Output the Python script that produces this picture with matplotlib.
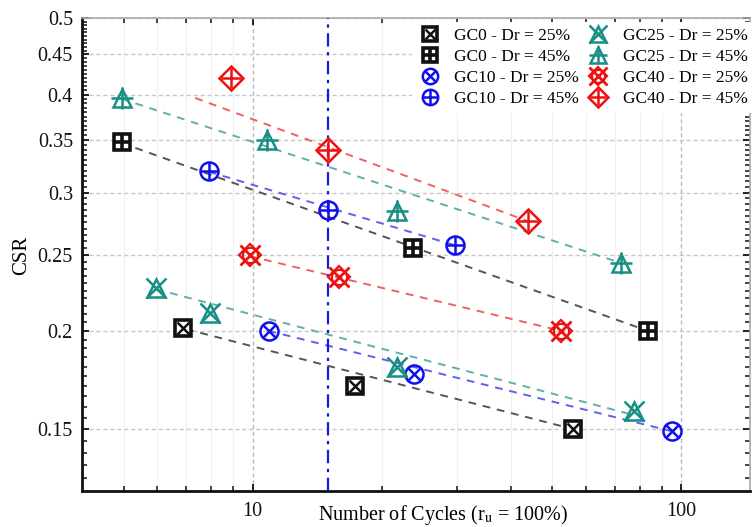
import numpy as np
import matplotlib
matplotlib.use("Agg")
import matplotlib.pyplot as plt
from matplotlib.ticker import FixedLocator, NullFormatter, FixedFormatter

plt.rcParams['font.family'] = ['Liberation Serif', 'DejaVu Serif']
plt.rcParams['mathtext.fontset'] = 'stix'

# ---------------- data ----------------
labels = ['GC0 - Dr = 25%', 'GC0 - Dr = 45%', 'GC10 - Dr = 25%', 'GC10 - Dr = 45%',
          'GC25 - Dr = 25%', 'GC25 - Dr = 45%', 'GC40 - Dr = 25%', 'GC40 - Dr = 45%']

gc0_25_N = [6.9, 17.3, 55.8]
gc0_25_csr = [0.202, 0.170, 0.150]
gc0_45_N = [4.95, 23.7, 83.5]
gc0_45_csr = [0.348, 0.255, 0.200]
gc10_25_N = [10.9, 23.8, 95.0]
gc10_25_csr = [0.200, 0.176, 0.149]
gc10_45_N = [7.9, 15.0, 29.7]
gc10_45_csr = [0.320, 0.285, 0.257]
gc25_25_N = [5.95, 7.95, 21.7, 77.5]
gc25_25_csr = [0.227, 0.211, 0.180, 0.158]
gc25_45_N = [4.95, 10.8, 21.7, 72.4]
gc25_45_csr = [0.396, 0.350, 0.284, 0.244]
gc40_25_N = [9.85, 15.9, 52.5]
gc40_25_csr = [0.250, 0.234, 0.200]
gc40_45_N = [8.9, 15.0, 43.8]
gc40_45_csr = [0.420, 0.340, 0.276]

# trend line end points (N, CSR)
tr_gc0_25 = ([7.0, 55.8], [0.201, 0.150])
tr_gc0_45 = ([4.95, 83.5], [0.347, 0.200])
tr_gc10_25 = ([10.9, 95.0], [0.200, 0.149])
tr_gc10_45 = ([7.9, 29.7], [0.319, 0.257])
tr_gc25_25 = ([5.95, 75.0], [0.226, 0.157])
tr_gc25_45 = ([4.95, 72.4], [0.395, 0.244])
tr_gc40_25 = ([9.85, 52.5], [0.249, 0.200])
tr_gc40_45 = ([7.35, 43.8], [0.396, 0.276])

n_ref = 15.0

x_major = [10, 100]
x_major_labels = ['10', '100']
y_major = [0.15, 0.2, 0.25, 0.3, 0.35, 0.4, 0.45, 0.5]
y_major_labels = ['0.15', '0.2', '0.25', '0.3', '0.35', '0.4', '0.45', '0.5']

# ---------------- style ----------------
BLACK = '#111111'
BLUE = '#1010ee'
TEAL = '#178f85'
RED = '#ee1111'
L_BLACK = '#555555'
L_BLUE = '#6060f0'
L_TEAL = '#5fb0a6'
L_RED = '#f06060'

fig = plt.figure(figsize=(7.52, 5.27), dpi=100)
ax = fig.add_axes([0.109, 0.068, 0.889, 0.897])
ax.set_xscale('log')
ax.set_yscale('log')
ax.set_xlim(4, 145)
ax.set_ylim(0.125, 0.5)

# trend lines
for tr, c in [(tr_gc0_25, L_BLACK), (tr_gc0_45, L_BLACK), (tr_gc10_25, L_BLUE),
              (tr_gc10_45, L_BLUE), (tr_gc25_25, L_TEAL), (tr_gc25_45, L_TEAL),
              (tr_gc40_25, L_RED), (tr_gc40_45, L_RED)]:
    ax.plot(tr[0], tr[1], ls=(0, (4, 3.5)), color=c, lw=1.4, zorder=3)

ax.axvline(n_ref, color='#1a1add', ls=(0, (6, 2.5, 1.5, 2.5)), lw=1.6, zorder=3)


def draw(N, csr, parts):
    hs = []
    for (m, ms, c, fc, mew) in parts:
        h, = ax.plot(N, csr, ls='none', marker=m, ms=ms, mec=c, mfc=fc, mew=mew,
                     zorder=5)
        hs.append(h)
    return tuple(hs)


handles = []
handles.append(draw(gc0_25_N, gc0_25_csr, [('s', 12, BLACK, 'white', 2.6), ('x', 8, BLACK, 'none', 1.8)]))
handles.append(draw(gc0_45_N, gc0_45_csr, [('s', 12, BLACK, 'white', 2.6), ('+', 11, BLACK, 'none', 2.6)]))
handles.append(draw(gc10_25_N, gc10_25_csr, [('o', 13, BLUE, 'none', 1.8), ('x', 9, BLUE, 'none', 1.8)]))
handles.append(draw(gc10_45_N, gc10_45_csr, [('o', 13, BLUE, 'none', 1.8), ('+', 13, BLUE, 'none', 1.8)]))
handles.append(draw(gc25_25_N, gc25_25_csr, [('^', 13, TEAL, 'none', 1.8), ('x', 15, TEAL, 'none', 1.8)]))
handles.append(draw(gc25_45_N, gc25_45_csr, [('^', 13, TEAL, 'none', 1.8), ('+', 16, TEAL, 'none', 1.8)]))
handles.append(draw(gc40_25_N, gc40_25_csr, [('o', 11, RED, 'none', 1.6), ('D', 11, RED, 'none', 1.6), ('x', 15, RED, 'none', 2.0)]))
handles.append(draw(gc40_45_N, gc40_45_csr, [('D', 12, RED, 'none', 1.8), ('+', 14, RED, 'none', 1.8)]))

# axes styling
ax.xaxis.set_major_locator(FixedLocator(x_major))
ax.xaxis.set_major_formatter(FixedFormatter(x_major_labels))
ax.xaxis.set_minor_locator(FixedLocator([5, 6, 7, 8, 9, 20, 30, 40, 50, 60, 70, 80, 90]))
ax.xaxis.set_minor_formatter(NullFormatter())
ax.yaxis.set_major_locator(FixedLocator(y_major))
ax.yaxis.set_major_formatter(FixedFormatter(y_major_labels))
ymin = [v for v in np.arange(0.13, 0.5, 0.005) if min(abs(v - t) for t in y_major) > 1e-4]
ax.yaxis.set_minor_locator(FixedLocator(ymin))
ax.yaxis.set_minor_formatter(NullFormatter())

ax.tick_params(which='both', direction='in', top=True, right=True, colors='#111111')
ax.tick_params(which='major', length=5, width=1.3, labelsize=14.5)
ax.tick_params(which='minor', length=3.5, width=1.1)
ax.tick_params(axis='y', which='major', pad=6.5)
ax.tick_params(axis='x', which='major', pad=8)

for s in ['left', 'bottom']:
    ax.spines[s].set_linewidth(2.0)
    ax.spines[s].set_color('#111111')
for s in ['top', 'right']:
    ax.spines[s].set_linewidth(1.2)
    ax.spines[s].set_color('#aaaaaa')

ax.grid(True, which='major', axis='y', ls=(0, (3, 2)), color='#c8c8c8', lw=1.0)
ax.grid(True, which='major', axis='x', ls=(0, (3, 2)), color='#bbbbbb', lw=1.0)
ax.grid(True, which='minor', axis='x', ls='-', color='#f0f0f0', lw=0.8)
ax.set_axisbelow(True)

fig.text(443 / 752, 1 - 515 / 527, r'Number of Cycles (r$_\mathrm{u}$ = 100%)',
         fontsize=14.5, ha='center', va='center')
fig.text(22 / 752, 1 - 255 / 527, 'CSR', fontsize=15, rotation=90,
         ha='center', va='center')

leg = ax.legend(handles, labels, ncol=2, loc='upper right', bbox_to_anchor=(1.01, 1.0),
                fontsize=12.5, frameon=True, framealpha=1, edgecolor='none',
                handlelength=1.4, handletextpad=0.7, columnspacing=0.4,
                labelspacing=0.28, borderpad=0.35, borderaxespad=0.2,
                markerscale=0.85)

fig.savefig('out.png', dpi=100)
